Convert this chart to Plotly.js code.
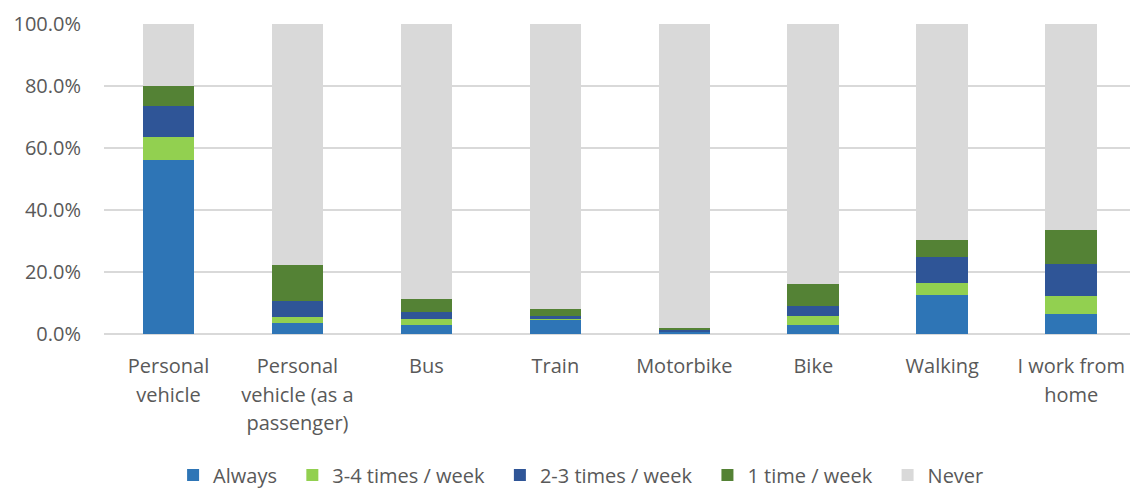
<!DOCTYPE html>
<html>
<head>
<meta charset="utf-8">
<script src="https://cdn.plot.ly/plotly-3.0.1.min.js"></script>
<style>
  html, body { margin: 0; padding: 0; background: #ffffff; }
  #chart { width: 1130px; height: 488px; }
</style>
</head>
<body>
<div id="chart"></div>
<script>
// Commuting modes and how often each is used (share of respondents)
const categories = [
  'Personal<br>vehicle',
  'Personal<br>vehicle (as a<br>passenger)',
  'Bus',
  'Train',
  'Motorbike',
  'Bike',
  'Walking',
  'I work from<br>home'
];

const always      = [0.560, 0.034, 0.030, 0.046, 0.006, 0.030, 0.125, 0.065];
const threeFour   = [0.075, 0.021, 0.020, 0.003, 0.002, 0.029, 0.040, 0.056];
const twoThree    = [0.100, 0.051, 0.020, 0.009, 0.005, 0.030, 0.083, 0.105];
const oncePerWeek = [0.066, 0.118, 0.044, 0.024, 0.006, 0.072, 0.056, 0.110];
const never       = [0.199, 0.776, 0.886, 0.918, 0.981, 0.839, 0.696, 0.664];

const seriesNames  = ['Always', '3-4 times / week', '2-3 times / week', '1 time / week', 'Never'];
const seriesValues = [always, threeFour, twoThree, oncePerWeek, never];
const seriesColors = ['#2E75B6', '#92D050', '#2F5597', '#548235', '#D9D9D9'];

// Tick labels: lines set at a 20px glyph size on a taller line pitch
const tickText = categories.map(c =>
  c.split('<br>').map(line => '<span style="font-size:20px">' + line + '</span>').join('<br>')
);

// Legend entries get a little trailing room so the items spread out
const pad = '\u00A0\u00A0';
const legendNames = seriesNames.map((n, i) => i < seriesNames.length - 1 ? n + pad : n);

const traces = seriesNames.map((name, i) => ({
  type: 'bar',
  name: legendNames[i],
  x: categories,
  y: seriesValues[i],
  marker: { color: seriesColors[i], line: { width: 0 } },
  hovertemplate: '%{y:.1%}<extra>' + name + '</extra>'
}));

const textColor = '#595959';

const layout = {
  width: 1130,
  height: 488,
  barmode: 'stack',
  bargap: 0.6,
  paper_bgcolor: '#ffffff',
  plot_bgcolor: '#ffffff',
  font: { family: '"Open Sans", "Noto Sans", sans-serif', size: 20, color: textColor },
  margin: { l: 104, r: 0, t: 24, b: 154, autoexpand: false },
  xaxis: {
    type: 'category',
    range: [-0.5, 7.456],
    automargin: false,
    tickmode: 'array',
    tickvals: categories,
    ticktext: tickText,
    showgrid: false,
    zeroline: false,
    showline: false,
    ticks: '',
    tickfont: { size: 22, color: textColor },
    ticklabelstandoff: 16
  },
  yaxis: {
    range: [0, 1],
    dtick: 0.2,
    tickformat: '.1%',
    automargin: false,
    showgrid: true,
    gridcolor: '#D9D9D9',
    gridwidth: 1.5,
    zeroline: true,
    zerolinecolor: '#D9D9D9',
    zerolinewidth: 1.5,
    showline: false,
    ticks: '',
    tickfont: { size: 20, color: textColor },
    ticklabelstandoff: 22
  },
  legend: {
    orientation: 'h',
    x: 0.465,
    xanchor: 'center',
    y: -0.455,
    yanchor: 'middle',
    font: { size: 20, color: textColor },
    traceorder: 'normal'
  },
  showlegend: true
};

Plotly.newPlot('chart', traces, layout, { displayModeBar: false, staticPlot: true });
</script>
</body>
</html>
